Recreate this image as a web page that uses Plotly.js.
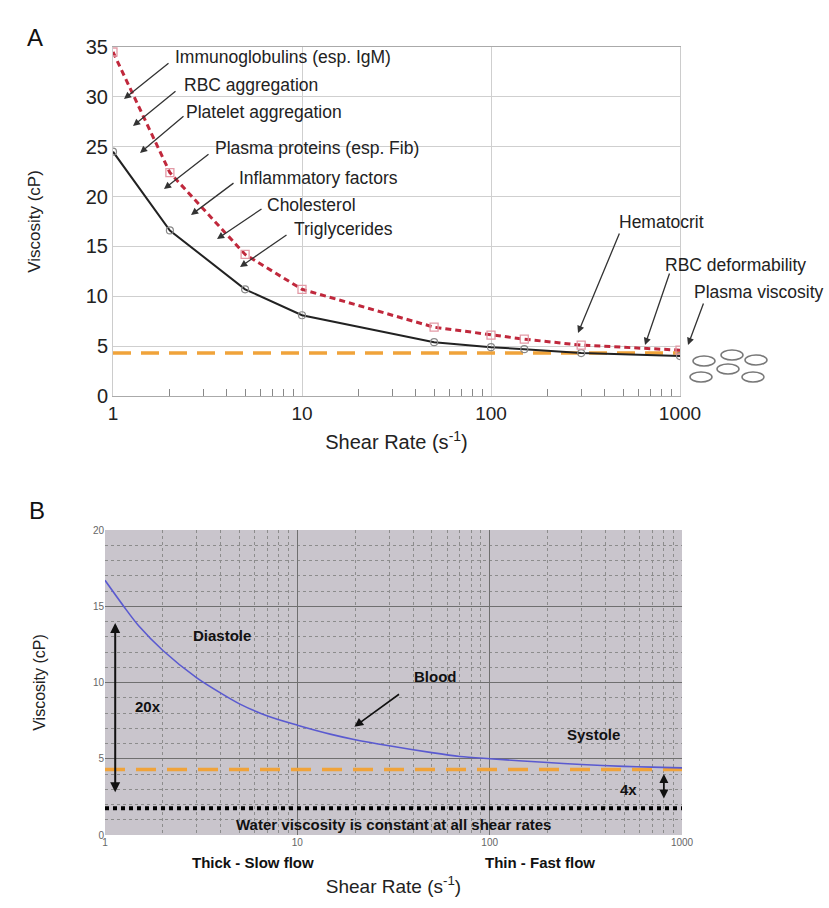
<!DOCTYPE html>
<html><head><meta charset="utf-8">
<script src="https://cdn.plot.ly/plotly-3.0.1.min.js"></script>
<style>html,body{margin:0;padding:0;background:#fff}</style>
</head><body><div id="chart" style="width:829px;height:908px"></div>
<script>
// ---------- Panel A data ----------
const shearA = [1, 2, 5, 10, 50, 100, 150, 300, 1000];
const viscRed = [34.5, 22.4, 14.2, 10.7, 6.9, 6.1, 5.7, 5.1, 4.6];
const viscBlack = [24.5, 16.6, 10.7, 8.1, 5.4, 4.9, 4.7, 4.3, 4.0];
const plasmaLevelA = 4.3;
const ticksA = [1, 10, 100, 1000];
const labelsA = ["Immunoglobulins (esp. IgM)", "RBC aggregation", "Platelet aggregation",
  "Plasma proteins (esp. Fib)", "Inflammatory factors", "Cholesterol", "Triglycerides",
  "Hematocrit", "RBC deformability", "Plasma viscosity"];

// ---------- Panel B data ----------
const shearB = [1, 1.25, 1.5, 2, 3, 4, 5, 7, 10, 15, 20, 30, 50, 70, 100, 200, 300, 500, 700, 1000];
const viscBlood = [16.7, 15.0, 13.7, 12.1, 10.3, 9.3, 8.6, 7.8, 7.2, 6.6, 6.25, 5.85, 5.4, 5.15, 5.0, 4.75, 4.62, 4.5, 4.45, 4.4];
const plasmaLevelB = 4.3;
const waterLevel = 1.75;
const ticksB = [1, 10, 100, 1000];
const labelsB = ["Diastole", "Blood", "Systole", "20x", "4x",
  "Water viscosity is constant at all shear rates", "Thick - Slow flow", "Thin - Fast flow"];

// minor tick positions (2..9 of each decade)
const minorLog = [];
[1, 10, 100].forEach(d => { for (let k = 2; k <= 9; k++) minorLog.push(k * d); });

const W = 829, H = 908;
const px = x => x / W, py = y => 1 - y / H;
const fA = "Liberation Sans Narrow, Arial Narrow, Liberation Sans, Arial, sans-serif";
const fB = "Liberation Sans, Arial, sans-serif";
const L = Math.log10;

const traces = [
  {x: [shearA[0], shearA[shearA.length-1]], y: [plasmaLevelA, plasmaLevelA], xaxis: 'x', yaxis: 'y', mode: 'lines',
   line: {color: '#f0a33a', width: 3.5, dash: '18px,10px'}, hoverinfo: 'skip'},
  {x: shearA, y: viscBlack, xaxis: 'x', yaxis: 'y', mode: 'lines+markers',
   line: {color: '#222', width: 2}, marker: {symbol: 'circle-open', size: 7, color: '#888', line: {width: 1.2}}},
  {x: shearA, y: viscRed, xaxis: 'x', yaxis: 'y', mode: 'lines+markers',
   line: {color: '#c0283c', width: 3, dash: '6px,4px'}, marker: {symbol: 'square-open', size: 8, color: '#e39aa6', line: {width: 1.3}}},
  {x: [shearB[0], shearB[shearB.length-1]], y: [waterLevel, waterLevel], xaxis: 'x2', yaxis: 'y2', mode: 'lines',
   line: {color: '#000', width: 4, dash: '4px,4px'}},
  {x: [shearB[0], shearB[shearB.length-1]], y: [plasmaLevelB, plasmaLevelB], xaxis: 'x2', yaxis: 'y2', mode: 'lines',
   line: {color: '#f0a33a', width: 3.5, dash: '20px,11px'}},
  {x: shearB, y: viscBlood, xaxis: 'x2', yaxis: 'y2', mode: 'lines', line: {color: '#5a5ad0', width: 1.6, shape: 'spline', smoothing: 0.8}}
];

const ann = [];
ann.push({xref: 'paper', yref: 'paper', x: px(25), y: py(22), text: 'A', showarrow: false, font: {family: fB, size: 24, color: '#111'}});
ann.push({xref: 'paper', yref: 'paper', x: px(27), y: py(510), text: 'B', showarrow: false, font: {family: fB, size: 24, color: '#111'}});

// Panel A labels: [textLeft, textY, tailX, tailY, headX, headY]
const posA = [
  [173, 57, 170, 62, 124, 99],
  [182, 85, 177, 90, 133, 126],
  [184, 112, 185, 115, 140, 153],
  [213, 148, 210, 153, 164, 189],
  [237, 178, 235, 182, 191, 215],
  [265, 205, 263, 208, 217, 239],
  [292, 229, 288, 234, 240, 267],
  [617, 222, 620, 232, 578, 333],
  [663, 265, 670, 272, 645, 345],
  [692, 292, 704, 302, 688, 345]
];
labelsA.forEach((t, i) => {
  const p = posA[i];
  ann.push({xref: 'paper', yref: 'paper', x: px(p[0]), y: py(p[1]), xanchor: 'left', yanchor: 'middle', text: t,
    showarrow: false, font: {family: fA, size: 17.5, color: '#222'}});
  ann.push({xref: 'paper', yref: 'paper', x: px(p[4]), y: py(p[5]), ax: p[2]-p[4], ay: p[3]-p[5], text: '',
    showarrow: true, arrowhead: 2, arrowsize: 1.1, arrowwidth: 1.3, arrowcolor: '#333'});
});

// Panel B labels (data coords, log10 for x)
const bold = s => '<b>' + s + '</b>';
const fb = {family: fB, size: 15, color: '#111'};
ann.push({xref: 'x2', yref: 'y2', x: L(4.07), y: 13.05, text: bold(labelsB[0]), showarrow: false, font: fb});
ann.push({xref: 'x2', yref: 'y2', x: L(52), y: 10.4, text: bold(labelsB[1]), showarrow: false, font: fb});
ann.push({xref: 'x2', yref: 'y2', x: L(19.8), y: 7.1, axref: 'x2', ayref: 'y2', ax: L(34.4), ay: 9.3, text: '',
  showarrow: true, arrowhead: 2, arrowsize: 1.1, arrowwidth: 1.6, arrowcolor: '#111'});
ann.push({xref: 'x2', yref: 'y2', x: L(348), y: 6.56, text: bold(labelsB[2]), showarrow: false, font: fb});
ann.push({xref: 'x2', yref: 'y2', x: L(1.67), y: 8.4, text: bold(labelsB[3]), showarrow: false, font: fb});
ann.push({xref: 'x2', yref: 'y2', x: L(1.13), y: 2.8, axref: 'x2', ayref: 'y2', ax: L(1.13), ay: 14.0, text: '',
  showarrow: true, arrowhead: 2, startarrowhead: 2, arrowside: 'end+start', arrowsize: 1, arrowwidth: 2, arrowcolor: '#111'});
ann.push({xref: 'x2', yref: 'y2', x: L(530), y: 3.0, text: bold(labelsB[4]), showarrow: false, font: fb});
ann.push({xref: 'x2', yref: 'y2', x: L(805), y: 2.4, axref: 'x2', ayref: 'y2', ax: L(805), ay: 4.1, text: '',
  showarrow: true, arrowhead: 2, startarrowhead: 2, arrowside: 'end+start', arrowsize: 1, arrowwidth: 1.8, arrowcolor: '#111'});
ann.push({xref: 'x2', yref: 'y2', x: L(31.6), y: 0.66, text: bold(labelsB[5]), showarrow: false, font: fb});
ann.push({xref: 'paper', yref: 'paper', x: px(190), y: py(873), text: bold(labelsB[6]), showarrow: false, font: fb});
ann.push({xref: 'paper', yref: 'paper', x: px(597), y: py(873), text: bold(labelsB[7]), showarrow: false, font: fb});

// RBC icons
const cells = [[704, 361], [732, 355], [756, 360], [728, 369], [701, 377], [753, 377]];
const shapes = cells.map(c => ({type: 'circle', xref: 'paper', yref: 'paper',
  x0: px(c[0]-11), x1: px(c[0]+11), y0: py(c[1]+5), y1: py(c[1]-5), line: {color: '#777', width: 1.5}}));
shapes.push({type: 'rect', xref: 'x2 domain', yref: 'y2 domain', x0: 0, x1: 1, y0: 0, y1: 1,
  fillcolor: '#c9c5cc', line: {width: 0}, layer: 'below'});

const layout = {
  width: W, height: H, margin: {l: 0, r: 0, t: 0, b: 0},
  paper_bgcolor: '#fff', plot_bgcolor: 'rgba(0,0,0,0)', showlegend: false,
  xaxis: {domain: [px(113), px(680)], type: 'log', range: [0, 3], tickvals: ticksA, ticktext: ticksA.map(String),
    showgrid: true, gridcolor: '#cfcfcf', showline: true, linecolor: '#aaa', mirror: true, ticks: '',
    tickfont: {family: fA, size: 19, color: '#222'},
    minor: {tickmode: 'array', tickvals: minorLog, ticks: 'inside', ticklen: 7, tickwidth: 1, tickcolor: '#888', showgrid: false},
    title: {text: 'Shear Rate (s<sup>-1</sup>)', font: {family: fA, size: 20, color: '#222'}, standoff: 12},
    anchor: 'y'},
  yaxis: {domain: [py(396), py(47)], range: [0, 35], dtick: 5, showgrid: true, gridcolor: '#cfcfcf', zeroline: false,
    showline: true, linecolor: '#ccc', mirror: true, ticks: '',
    tickfont: {family: fA, size: 20, color: '#222'},
    title: {text: 'Viscosity (cP)', font: {family: fA, size: 17, color: '#222'}, standoff: 40}, anchor: 'x'},
  xaxis2: {domain: [px(105), px(682)], type: 'log', range: [0, 3], tickvals: ticksB, ticktext: ticksB.map(String),
    showgrid: true, gridcolor: '#6f6f6f', gridwidth: 1, showline: false, ticks: '',
    tickfont: {family: fB, size: 10, color: '#666'},
    minor: {tickmode: 'array', tickvals: minorLog, showgrid: true, gridcolor: '#8c8c8c', griddash: 'dot', gridwidth: 1},
    title: {text: 'Shear Rate (s<sup>-1</sup>)', font: {family: fB, size: 19, color: '#222'}, standoff: 32},
    anchor: 'y2'},
  yaxis2: {domain: [py(835), py(530)], range: [0, 20], dtick: 5, showgrid: true, gridcolor: '#6f6f6f', zeroline: false,
    showline: false, ticks: '', tickfont: {family: fB, size: 10, color: '#666'},
    minor: {dtick: 1, showgrid: true, gridcolor: '#8c8c8c', griddash: 'dot', gridwidth: 1},
    title: {text: 'Viscosity (cP)', font: {family: fB, size: 16, color: '#222'}, standoff: 43}, anchor: 'x2'},
  annotations: ann, shapes: shapes
};
Plotly.newPlot('chart', traces, layout, {displayModeBar: false, staticPlot: true});
</script></body></html>
